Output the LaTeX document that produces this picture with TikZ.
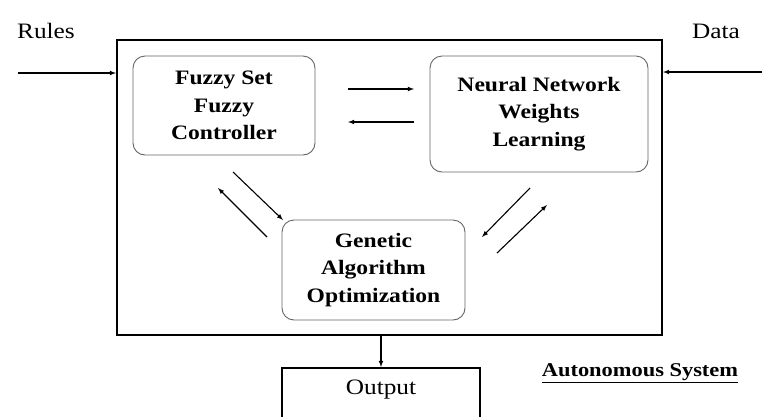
\documentclass[tikz,border=0pt]{standalone}
\usepackage{fontspec}
\setmainfont[FakeStretch=1.15]{Liberation Serif}
\usepackage{tikz}
\usetikzlibrary{positioning, calc, arrows}

\tikzset{
  unit/.style={draw=black!60, line width=0.9pt, rounded corners=12pt, align=center,
    font=\fontsize{20.5}{27.5}\selectfont\bfseries, inner sep=0pt},
  frame/.style={draw, line width=2pt, inner sep=0pt},
  link/.style={-latex, line width=1.1pt},
  lbl/.style={font=\fontsize{22}{26}\selectfont, inner sep=0pt}
}

\begin{document}
\begin{tikzpicture}[x=1pt, y=-1pt]
\clip (0,0) rectangle (766,416);
\useasboundingbox (0,0) rectangle (766,416);

% outer system
\node [frame, minimum width=545pt, minimum height=295pt] (sys) at (389.5, 187.5) {};

% the three units
\node [unit, minimum width=182pt, minimum height=99pt] (fuzzy) at (224, 105.5) {Fuzzy Set\\Fuzzy\\Controller};
\node [unit, minimum width=218pt, minimum height=116pt] (nn) at (539, 114) {Neural Network\\Weights\\Learning};
\node [unit, minimum width=183pt, minimum height=100pt] (ga) at (373.5, 270) {Genetic\\Algorithm\\Optimization};

% output
\node [frame, minimum width=198pt, minimum height=72pt, lbl] (out) at (381, 404) {};
\node [lbl] (outtxt) at (381, 390) {Output};
\draw [link] (sys.south -| out.north) -- (out.north);

% inputs
\node [lbl] (rules) at (46, 31) {Rules};
\node [lbl] (data) at (716, 31) {Data};
\coordinate (rin) at (18, 73);
\coordinate (din) at (762, 72);
\draw [link] (rin) -- (rin -| sys.west);
\draw [link] (din) -- (din -| sys.east);

% exchanges between units
\coordinate (a1) at (348, 89);  \coordinate (a2) at (414, 89);
\coordinate (b1) at (414, 122); \coordinate (b2) at (348, 122);
\draw [link] (a1) -- (a2);
\draw [link] (b1) -- (b2);

\coordinate (c1) at (233, 172); \coordinate (c2) at (283, 220);
\coordinate (d1) at (267, 237); \coordinate (d2) at (218, 188);
\draw [link] (c1) -- (c2);
\draw [link] (d1) -- (d2);

\coordinate (e1) at (530, 188); \coordinate (e2) at (482, 237);
\coordinate (f1) at (497, 253); \coordinate (f2) at (547, 205);
\draw [link] (e1) -- (e2);
\draw [link] (f1) -- (f2);

\node [font=\fontsize{19.5}{22}\selectfont\bfseries, inner sep=0pt] (auto) at (640, 373) {\underline{Autonomous System}};
\end{tikzpicture}
\end{document}
